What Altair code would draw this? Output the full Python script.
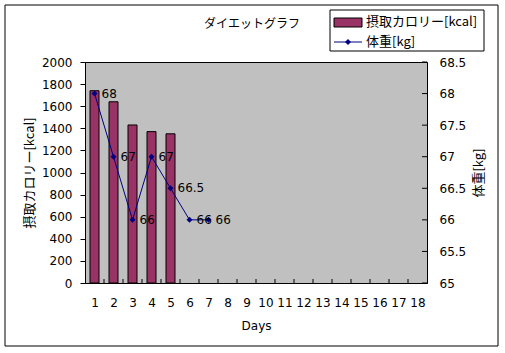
import altair as alt
import pandas as pd

# ---- data ----
days = list(range(1, 19))
calorie_days = [1, 2, 3, 4, 5]
calories = [1740, 1640, 1430, 1370, 1350]
weight_days = [1, 2, 3, 4, 5, 6, 7]
weights = [68, 67, 66, 67, 66.5, 66, 66]
weight_labels = ["68", "67", "66", "67", "66.5", "66", "66"]
left_ticks = [0, 200, 400, 600, 800, 1000, 1200, 1400, 1600, 1800, 2000]
right_ticks = [65, 65.5, 66, 66.5, 67, 67.5, 68, 68.5]
series = ["摂取カロリー[kcal]", "体重[kg]"]
chart_title = "ダイエットグラフ"
x_title = "Days"

W, H = 342, 221
JP = "Noto Sans CJK JP"
NUM = "DejaVu Sans"

cal_df = pd.DataFrame({"day": calorie_days, "cal": calories})
wt_df = pd.DataFrame({"day": weight_days, "weight": weights, "label": weight_labels})
bound_df = pd.DataFrame({"day": days[:-1]})
rtick_df = pd.DataFrame({"weight": right_ticks})
one = pd.DataFrame({"k": [0]})

xscale = alt.Scale(domain=[0.5, 18.5], nice=False, zero=False, padding=0)
x_axis = alt.Axis(values=days, ticks=False, grid=False, domainColor="black", format="d",
                  labelFont=NUM, labelFontSize=12, labelColor="black", labelPadding=14,
                  labelOverlap=False, labelFlush=False, title=x_title, titleFont=NUM,
                  titleFontSize=12, titleFontWeight="normal", titleColor="black", titlePadding=12)

left_axis = alt.Axis(orient="left", values=left_ticks, tickSize=5, tickColor="black", format="d",
                     domainColor="black", grid=False, labelFont=NUM, labelFontSize=12,
                     labelColor="black", labelPadding=8, title=series[0], titleFont=JP,
                     titleFontSize=13, titleFontWeight="normal", titleColor="black",
                     titlePadding=5)

right_axis = alt.Axis(orient="right", values=right_ticks, ticks=False, format="~g",
                      domainColor="black", grid=False, labelFont=NUM, labelFontSize=12,
                      labelColor="black", labelPadding=12, title=series[1], titleFont=JP,
                      titleFontSize=13, titleFontWeight="normal", titleColor="black",
                      titlePadding=7, titleAngle=270, titleBaseline="top")

def xenc(field):
    return alt.X(field, type="quantitative", scale=xscale, axis=x_axis)

wscale = alt.Scale(domain=[65, 68.5], nice=False, zero=False)

def wenc():
    return alt.Y("weight", type="quantitative", scale=wscale, axis=right_axis)

bars = alt.Chart(cal_df).mark_bar(size=9, color="#993366", stroke="black", strokeWidth=1).encode(
    x=xenc("day"),
    y=alt.Y("cal:Q", scale=alt.Scale(domain=[0, 2000], nice=False, padding=0), axis=left_axis),
)

xticks = alt.Chart(bound_df).transform_calculate(b="datum.day + 0.5").mark_rule(
    color="black", strokeWidth=1).encode(
    x=xenc("b"),
    y=alt.value(H), y2=alt.value(H - 4),
)

border = alt.Chart(one).mark_rect(fillOpacity=0, stroke="black", strokeWidth=1).encode(
    x=alt.value(5 - 85), x2=alt.value(498 - 85), y=alt.value(5 - 62), y2=alt.value(346 - 62))

title_txt = alt.Chart(one).mark_text(text=chart_title, align="center", baseline="middle",
                                     font=JP, fontSize=12, color="black").encode(
    x=alt.value(252 - 85), y=alt.value(24 - 62))

# manual legend
leg_box = alt.Chart(one).mark_rect(fill="white", stroke="black", strokeWidth=1).encode(
    x=alt.value(330 - 85), x2=alt.value(484 - 85), y=alt.value(10 - 62), y2=alt.value(51 - 62))
leg_bar = alt.Chart(one).mark_rect(fill="#993366", stroke="black", strokeWidth=1).encode(
    x=alt.value(334 - 85), x2=alt.value(362 - 85), y=alt.value(18 - 62), y2=alt.value(27 - 62))
leg_line = alt.Chart(one).mark_rule(color="#000080", strokeWidth=1).encode(
    x=alt.value(334 - 85), x2=alt.value(362 - 85), y=alt.value(42 - 62))
leg_pt = alt.Chart(one).mark_point(shape="diamond", filled=True, size=36, color="#000080",
                                   opacity=1).encode(x=alt.value(348 - 85), y=alt.value(42 - 62))
leg_t1 = alt.Chart(one).mark_text(text=series[0], align="left", baseline="middle", font=JP,
                                  fontSize=13, color="black").encode(
    x=alt.value(366 - 85), y=alt.value(22 - 62))
leg_t2 = alt.Chart(one).mark_text(text=series[1], align="left", baseline="middle", font=JP,
                                  fontSize=13, color="black").encode(
    x=alt.value(366 - 85), y=alt.value(42 - 62))

bar_group = alt.layer(bars, xticks, border, title_txt, leg_box, leg_bar, leg_line, leg_pt,
                      leg_t1, leg_t2)

line = alt.Chart(wt_df).mark_line(color="#000080", strokeWidth=1).encode(
    x=xenc("day"), y=wenc())
pts = alt.Chart(wt_df).mark_point(shape="diamond", filled=True, size=36, color="#000080",
                                  opacity=1).encode(x=xenc("day"), y=wenc())
labels = alt.Chart(wt_df).mark_text(align="left", baseline="middle", dx=7, font=NUM,
                                    fontSize=12, color="black").encode(
    x=xenc("day"), y=wenc(), text="label:N")
rticks = alt.Chart(rtick_df).mark_rule(color="black", strokeWidth=1).encode(
    y=wenc(), x=alt.value(W - 5), x2=alt.value(W))
weight_group = alt.layer(line, pts, labels, rticks)

chart = alt.layer(bar_group, weight_group).resolve_scale(y="independent").properties(
    width=W, height=H,
    autosize=alt.AutoSizeParams(type="none"),
    padding={"left": 85, "top": 62, "right": 78, "bottom": 70},
    background="white",
).configure_view(fill="#C0C0C0", stroke="black", strokeWidth=1)

chart.save("out.html", embed_options={"renderer": "svg", "actions": False})
